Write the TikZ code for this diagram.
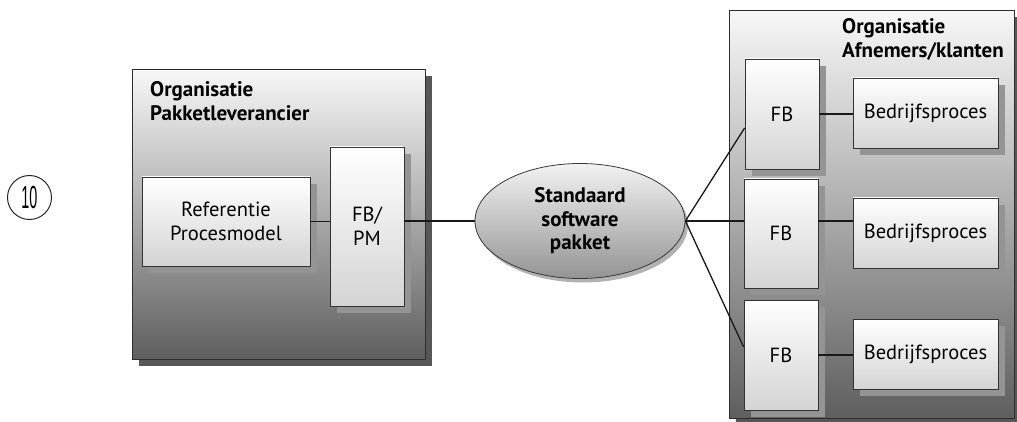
\documentclass[tikz,border=0pt]{standalone}
\usepackage{fontspec}
\setmainfont{PT Sans}
\newfontfamily\numfont{Liberation Sans}
\usetikzlibrary{shadows,shapes.geometric}

\begin{document}
\begin{tikzpicture}[x=1pt,y=-1pt,
  orgbox/.style={draw=black!82, line width=0.9pt, top color=black!3, bottom color=black!63,
    general shadow={fill=black!66, shadow xshift=7pt, shadow yshift=-7pt},
    anchor=north west, inner sep=0pt},
  orgtitle/.style={font=\bfseries\fontsize{21}{24.5}\selectfont, align=left, inner sep=0pt, anchor=north west},
  smallbox/.style={draw=black!80, line width=0.8pt, top color=white, bottom color=black!17,
    general shadow={fill=black!42, shadow xshift=7pt, shadow yshift=-7pt},
    align=center, inner sep=0pt, font=\fontsize{20.5}{24}\selectfont},
  pkg/.style={ellipse, draw=black!78, line width=0.8pt, top color=black!5, bottom color=black!42,
    general shadow={fill=black!30, shadow xshift=3pt, shadow yshift=-4pt},
    minimum width=210pt, minimum height=115pt, inner sep=0pt, align=center,
    font=\bfseries\fontsize{21}{23.5}\selectfont},
  link/.style={draw=black!90, line width=1.3pt}
]
\useasboundingbox (0,0) rectangle (1017,422);

% chapter number
\node[circle, draw=black!85, line width=1pt, minimum size=44pt, inner sep=0pt] (num) at (29.5,197.5)
  {\numfont\fontsize{32}{32}\selectfont\scalebox{0.45}[1]{10}};

% supplier organisation
\node[orgbox, minimum width=293pt, minimum height=290pt] (lorg) at (132,69) {};
\node[orgtitle] (ltitle) at (150,81) {Organisatie\\Pakketleverancier};
\node[smallbox, minimum width=168pt, minimum height=89pt] (ref) at (226,221.5) {Referentie\\Procesmodel};
\node[smallbox, minimum width=74pt, minimum height=159pt] (fbpm) at (367,226.5) {FB/\\PM};

% customer organisation
\node[orgbox, minimum width=285pt, minimum height=408pt] (rorg) at (729,10) {};
\node[orgtitle] (rtitle) at (842,18) {Organisatie\\Afnemers/klanten};
\node[smallbox, minimum width=74pt, minimum height=110pt] (fb1) at (782,114) {FB};
\node[smallbox, minimum width=74pt, minimum height=109pt] (fb2) at (781,233.5) {FB};
\node[smallbox, minimum width=74pt, minimum height=110pt] (fb3) at (781,355) {FB};
\node[smallbox, minimum width=145pt, minimum height=70pt] (bp1) at (925.5,113) {Bedrijfsproces};
\node[smallbox, minimum width=145pt, minimum height=70pt] (bp2) at (925.5,233) {Bedrijfsproces};
\node[smallbox, minimum width=145pt, minimum height=70pt] (bp3) at (925.5,354) {Bedrijfsproces};

% standard package
\node[pkg] (ell) at (580,221) {Standaard\\software\\pakket};

% connectors
\draw[link] (ref.east) -- (ref.east -| fbpm.west);
\draw[link] (fbpm.east |- ell.west) -- (ell.west);
\draw[link] (ell.east) -- (fb1.west |- 0,128);
\draw[link] (ell.east) -- (ell.east -| fb2.west);
\draw[link] (ell.east) -- (fb3.west |- 0,347);
\draw[link] (fb1.east) -- (fb1.east -| bp1.west);
\draw[link] (fb2.east |- ell.east) -- (bp2.west |- ell.east);
\draw[link] (fb3.east) -- (fb3.east -| bp3.west);
\end{tikzpicture}
\end{document}
